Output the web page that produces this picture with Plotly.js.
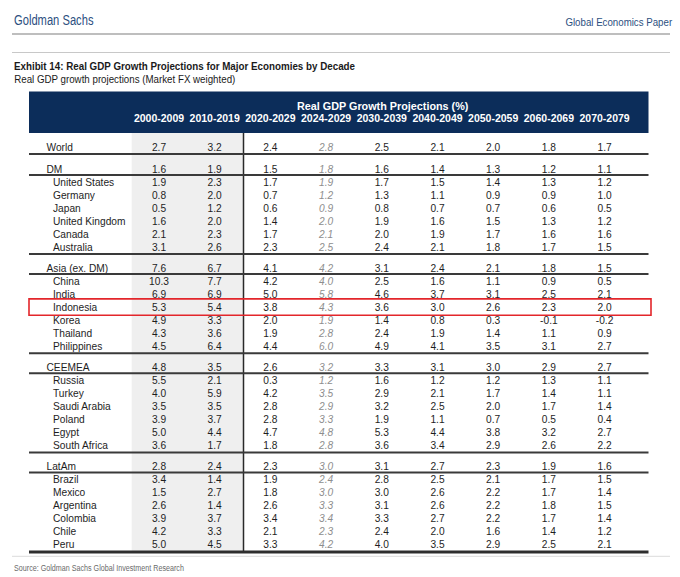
<!DOCTYPE html>
<html>
<head>
<meta charset="utf-8">
<script src="https://cdn.plot.ly/plotly-3.0.1.min.js"></script>
<style>html,body{margin:0;padding:0;background:#fff;}#chart{width:680px;height:577px;}</style>
</head>
<body>
<div id="chart"></div>
<script>
// ---------- DATA ----------
const rowLabels = ['World','DM','United States','Germany','Japan','United Kingdom','Canada','Australia',
  'Asia (ex. DM)','China','India','Indonesia','Korea','Thailand','Philippines',
  'CEEMEA','Russia','Turkey','Saudi Arabia','Poland','Egypt','South Africa',
  'LatAm','Brazil','Mexico','Argentina','Colombia','Chile','Peru'];
const aggregates = ['World','DM','Asia (ex. DM)','CEEMEA','LatAm'];
const highlightRow = 'Indonesia';
const columnLabels = ['2000-2009','2010-2019','2020-2029','2024-2029','2030-2039','2040-2049','2050-2059','2060-2069','2070-2079'];

const g2000s = [2.7,1.6,1.9,0.8,0.5,1.6,2.1,3.1, 7.6,10.3,6.9,5.3,4.9,4.3,4.5, 4.8,5.5,4.0,3.5,3.9,5.0,3.6, 2.8,3.4,1.5,2.6,3.9,4.2,5.0];
const g2010s = [3.2,1.9,2.3,2.0,1.2,2.0,2.3,2.6, 6.7,7.7,6.9,5.4,3.3,3.6,6.4, 3.5,2.1,5.9,3.5,3.7,4.4,1.7, 2.4,1.4,2.7,1.4,3.7,3.3,4.5];
const g2020s = [2.4,1.5,1.7,0.7,0.6,1.4,1.7,2.3, 4.1,4.2,5.0,3.8,2.0,1.9,4.4, 2.6,0.3,4.2,2.8,2.8,4.7,1.8, 2.3,1.9,1.8,2.6,3.4,2.1,3.3];
const g2024_29 = [2.8,1.8,1.9,1.2,0.9,2.0,2.1,2.5, 4.2,4.0,5.8,4.3,1.9,2.8,6.0, 3.2,1.2,3.5,2.9,3.3,4.8,2.8, 3.0,2.4,3.0,3.3,3.4,2.3,4.2];
const g2030s = [2.5,1.6,1.7,1.3,0.8,1.9,2.0,2.4, 3.1,2.5,4.6,3.6,1.4,2.4,4.9, 3.3,1.6,2.9,3.2,1.9,5.3,3.6, 3.1,2.8,3.0,3.1,3.3,2.4,4.0];
const g2040s = [2.1,1.4,1.5,1.1,0.7,1.6,1.9,2.1, 2.4,1.6,3.7,3.0,0.8,1.9,4.1, 3.1,1.2,2.1,2.5,1.1,4.4,3.4, 2.7,2.5,2.6,2.6,2.7,2.0,3.5];
const g2050s = [2.0,1.3,1.4,0.9,0.7,1.5,1.7,1.8, 2.1,1.1,3.1,2.6,0.3,1.4,3.5, 3.0,1.2,1.7,2.0,0.7,3.8,2.9, 2.3,2.1,2.2,2.2,2.2,1.6,2.9];
const g2060s = [1.8,1.2,1.3,0.9,0.6,1.3,1.6,1.7, 1.8,0.9,2.5,2.3,-0.1,1.1,3.1, 2.9,1.3,1.4,1.7,0.5,3.2,2.6, 1.9,1.7,1.7,1.8,1.7,1.4,2.5];
const g2070s = [1.7,1.1,1.2,1.0,0.5,1.2,1.6,1.5, 1.5,0.5,2.1,2.0,-0.2,0.9,2.7, 2.7,1.1,1.1,1.4,0.4,2.7,2.2, 1.6,1.5,1.4,1.5,1.4,1.2,2.1];
const seriesList = [g2000s,g2010s,g2020s,g2024_29,g2030s,g2040s,g2050s,g2060s,g2070s];
const overlapColumn = '2024-2029';

// ---------- LAYOUT GEOMETRY ----------
const W = 680, H = 577;
const colX0 = 159, colStep = 55.7;
const colX = i => colX0 + i * colStep;
const tableL = 29, tableR = 648.5;
const rowY = [];
(function(){
  let y = 147.5;
  rowLabels.forEach((r, i) => {
    if (i > 0) y += aggregates.includes(r) ? 21.2 : 13.0;
    rowY.push(y);
  });
})();
const textDy = 1.3; // visual centring of glyphs
const textY = rowY.map(y => y + textDy);
const tableTop = 133, tableBottom = rowY[rowY.length-1] + 7.7;

const navy = '#0c2d5a';
const brand = '#2c4f7f';
const textFont = 'Liberation Sans, Arial, sans-serif';
const narrowFont = 'Liberation Sans Narrow, Arial Narrow, Liberation Sans, sans-serif';
const cellSize = 10.2;

const traces = [];
seriesList.forEach((vals, ci) => {
  const isOverlap = columnLabels[ci] === overlapColumn;
  traces.push({
    type: 'scatter', mode: 'text',
    x: vals.map(() => colX(ci)), y: textY,
    text: vals.map(v => v.toFixed(1)),
    textposition: 'middle center',
    textfont: {family: textFont, size: cellSize,
      color: isOverlap ? '#8e8e8e' : '#1e1e1e', style: isOverlap ? 'italic' : 'normal'},
    hoverinfo: 'skip', showlegend: false
  });
});
traces.push({
  type: 'scatter', mode: 'text',
  x: rowLabels.map(r => aggregates.includes(r) ? 46.5 : 53), y: textY,
  text: rowLabels, textposition: 'middle right',
  textfont: {family: textFont, size: cellSize, color: '#1e1e1e'},
  hoverinfo: 'skip', showlegend: false
});
traces.push({
  type: 'scatter', mode: 'text',
  x: columnLabels.map((c, i) => colX(i)), y: columnLabels.map(() => 119.5),
  text: columnLabels.map(c => '<b>' + c + '</b>'), textposition: 'middle center',
  textfont: {family: textFont, size: 10.5, color: '#ffffff'},
  hoverinfo: 'skip', showlegend: false
});

const shapes = [];
shapes.push({type:'line', x0:12, x1:670, y0:34, y1:34, xref:'x', yref:'y', line:{color:'#a9a9a9', width:1.5}});
shapes.push({type:'line', x0:12, x1:670, y0:52.5, y1:52.5, xref:'x', yref:'y', line:{color:'#c8c8c8', width:1}});
shapes.push({type:'rect', x0:tableL, x1:tableR, y0:91.5, y1:tableTop, xref:'x', yref:'y', fillcolor:navy, line:{width:0}, layer:'below'});
const bandL = colX(0) - 27.3, bandR = colX(1) + 28.8;
shapes.push({type:'rect', x0:bandL, x1:bandR, y0:tableTop, y1:tableBottom, xref:'x', yref:'y', fillcolor:'#efefef', line:{width:0}, layer:'below'});
shapes.push({type:'line', x0:bandR, x1:bandR, y0:tableTop, y1:tableBottom, xref:'x', yref:'y', line:{color:'#2a2a2a', width:1.5}});
rowLabels.forEach((r, i) => {
  const next = rowLabels[i+1];
  let yl = null;
  if (r === 'World') yl = rowY[i] + 6.5;
  else if (aggregates.includes(r)) yl = rowY[i] + 6.2;
  else if (next !== undefined && aggregates.includes(next)) yl = rowY[i] + 7.3;
  if (yl !== null) shapes.push({type:'line', x0:tableL, x1:tableR, y0:yl, y1:yl, xref:'x', yref:'y', line:{color:'#3a3a3a', width:2}});
});
shapes.push({type:'line', x0:tableL, x1:tableR, y0:tableBottom, y1:tableBottom, xref:'x', yref:'y', line:{color:'#2e2e2e', width:3}});
shapes.push({type:'line', x0:12, x1:670, y0:tableBottom+4.3, y1:tableBottom+4.3, xref:'x', yref:'y', line:{color:'#e2e2e2', width:1.2}});
const hi = rowY[rowLabels.indexOf(highlightRow)];
shapes.push({type:'rect', x0:tableL, x1:651, y0:hi-8, y1:hi+8.3, xref:'x', yref:'y', fillcolor:'rgba(0,0,0,0)', line:{color:'#e3262b', width:1.6}});

// narrow texts: [text, x, y, anchor, size, color, bold, targetWidth]
const narrowTexts = [
  ['Goldman Sachs', 12, 20, 'left', 14.5, brand, false, 79.5],
  ['Global Economics Paper', 674, 22, 'right', 11.2, brand, false, 107],
  ['Exhibit 14: Real GDP Growth Projections for Major Economies by Decade', 11.5, 66, 'left', 11.2, '#1a1a1a', true, 341],
  ['Real GDP growth projections (Market FX weighted)', 11.5, 79.3, 'left', 11, '#1a1a1a', false, 221.5],
  ['Source: Goldman Sachs Global Investment Research', 11.7, 567.5, 'left', 8.8, '#6a6a6a', false, 170]
];
const annotations = narrowTexts.map(t => ({
  text: t[6] ? '<b>' + t[0] + '</b>' : t[0], x: t[1], y: t[2], xanchor: t[3], yanchor: 'middle',
  showarrow: false, xref: 'x', yref: 'y', font: {family: narrowFont, size: t[4], color: t[5]}
}));
annotations.push({text:'<b>Real GDP Growth Projections (%)</b>', x:382.5, y:105.8, xanchor:'center', yanchor:'middle', showarrow:false, xref:'x', yref:'y',
   font:{family:textFont, size:10.8, color:'#ffffff'}});

const layout = {
  width: W, height: H,
  margin: {l:0, r:0, t:0, b:0, pad:0},
  paper_bgcolor: '#ffffff', plot_bgcolor: '#ffffff',
  xaxis: {range:[0, W], visible:false, fixedrange:true},
  yaxis: {range:[H, 0], visible:false, fixedrange:true},
  shapes: shapes, annotations: annotations, showlegend: false
};
Plotly.newPlot('chart', traces, layout, {displayModeBar:false, staticPlot:true}).then(gd => {
  // condense the report-style texts horizontally to mimic a narrow typeface
  const els = gd.querySelectorAll('.annotation-text');
  narrowTexts.forEach((t, i) => {
    const el = els[i];
    if (!el) return;
    const bb = el.getBBox();
    if (!bb.width) return;
    const sx = Math.min(1, t[7] / bb.width);
    const ox = t[3] === 'left' ? bb.x : (t[3] === 'right' ? bb.x + bb.width : bb.x + bb.width / 2);
    const prev = el.getAttribute('transform') || '';
    el.setAttribute('transform', (prev + ' translate(' + ox + ',0) scale(' + sx + ',1) translate(' + (-ox) + ',0)').trim());
  });
});
</script>
</body>
</html>
